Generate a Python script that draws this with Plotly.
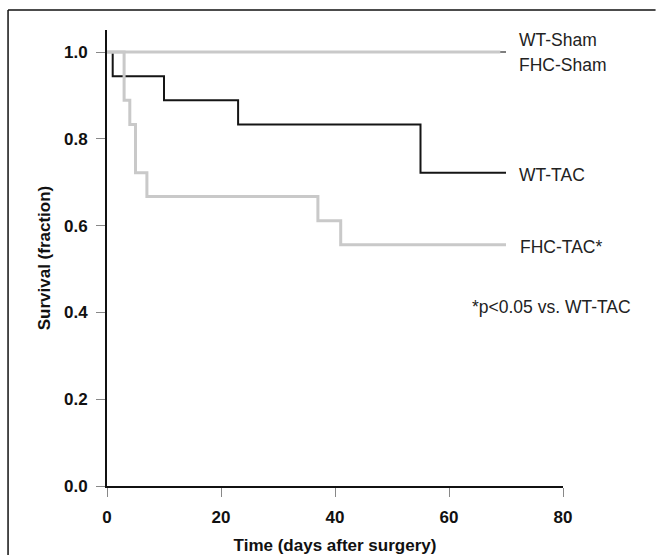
import plotly.graph_objects as go

# Kaplan-Meier survival data (days, fraction)
wt_sham_t = [0, 70]
wt_sham_s = [1.0, 1.0]
fhc_sham_t = [0, 69]
fhc_sham_s = [1.0, 1.0]
wt_tac_t = [0, 1, 10, 23, 55, 70]
wt_tac_s = [1.0, 0.944, 0.889, 0.833, 0.722, 0.722]
fhc_tac_t = [0, 3, 4, 5, 7, 37, 41, 70]
fhc_tac_s = [1.0, 0.889, 0.833, 0.722, 0.667, 0.611, 0.556, 0.556]

x_ticks = [0, 20, 40, 60, 80]
y_ticks = [0.0, 0.2, 0.4, 0.6, 0.8, 1.0]

BLACK = "#151515"
GRAY = "#c9c9c9"

fig = go.Figure()
fig.add_trace(go.Scatter(x=wt_sham_t, y=wt_sham_s, mode="lines", line=dict(color="#555555", width=1.5, shape="hv")))
fig.add_trace(go.Scatter(x=wt_tac_t, y=wt_tac_s, mode="lines", line=dict(color=BLACK, width=2, shape="hv")))
fig.add_trace(go.Scatter(x=fhc_sham_t, y=fhc_sham_s, mode="lines", line=dict(color=GRAY, width=3, shape="hv")))
fig.add_trace(go.Scatter(x=fhc_tac_t, y=fhc_tac_s, mode="lines", line=dict(color=GRAY, width=3, shape="hv")))

label_font = dict(family="Liberation Sans, Arial, sans-serif", size=17.5, color="#222222", weight="normal")
labels = [
    ("WT-Sham", 71.9, 1.027),
    ("FHC-Sham", 71.9, 0.970),
    ("WT-TAC", 71.9, 0.716),
    ("FHC-TAC*", 72.1, 0.551),
    ("*p<0.05 vs. WT-TAC", 63.7, 0.412),
]
for text, x, y in labels:
    fig.add_annotation(x=x, y=y, xref="x", yref="y", text=text, showarrow=False,
                       xanchor="left", yanchor="middle", font=label_font)

# outer frame: left edge and top edge
fig.add_shape(type="line", xref="paper", yref="paper", x0=-0.217, x1=-0.217, y0=-0.3, y1=1.044,
              line=dict(color="#111111", width=1.5), layer="below")
fig.add_shape(type="line", xref="paper", yref="paper", x0=-0.217, x1=1.203, y0=1.044, y1=1.044,
              line=dict(color="#111111", width=1.5), layer="below")

bold = dict(family="Liberation Sans, Arial, sans-serif", size=17, color="#111111", weight="bold")
fig.update_layout(
    width=657, height=555,
    margin=dict(l=107, r=94, t=30, b=69),
    paper_bgcolor="white", plot_bgcolor="white",
    showlegend=False,
    font=bold,
)
fig.update_xaxes(range=[0, 80], tickvals=x_ticks, showgrid=False, zeroline=False, automargin=False,
                 showline=True, linecolor="#111111", linewidth=2,
                 ticks="outside", ticklen=9, tickwidth=1, tickcolor="#888888", ticklabelstandoff=6,
                 tickfont=bold, title=dict(text="Time (days after surgery)", font=bold, standoff=19))
fig.update_yaxes(range=[0, 1.0507], tickvals=y_ticks, tickformat=".1f", showgrid=False, zeroline=False,
                 automargin=False,
                 showline=True, linecolor="#111111", linewidth=2,
                 ticks="outside", ticklen=9, tickwidth=1, tickcolor="#888888", ticklabelstandoff=5,
                 tickfont=bold, title=dict(text="Survival (fraction)", font=bold, standoff=9))

fig.write_html("out.html")
